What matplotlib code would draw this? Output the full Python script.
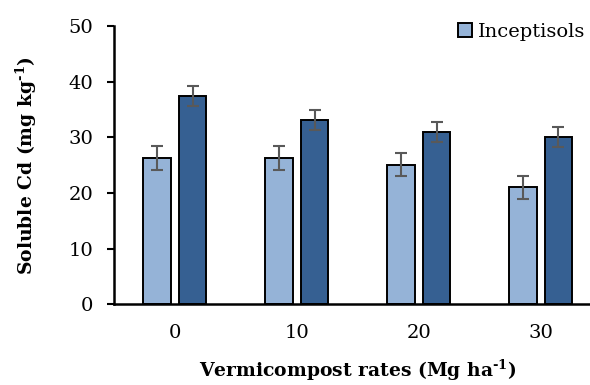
import matplotlib.pyplot as plt
import numpy as np

rates = ["0", "10", "20", "30"]
inceptisols = [26.3, 26.3, 25.1, 21.0]
inceptisols_err = [2.1, 2.1, 2.1, 2.0]
other_soil = [37.4, 33.1, 31.0, 30.1]
other_soil_err = [1.8, 1.8, 1.8, 1.75]

plt.rcParams['font.family'] = ['DejaVu Serif']
plt.rcParams['mathtext.fontset'] = 'custom'
plt.rcParams['mathtext.rm'] = 'DejaVu Serif:bold'
plt.rcParams['mathtext.bf'] = 'DejaVu Serif:bold'
plt.rcParams['mathtext.default'] = 'bf'

fig = plt.figure(figsize=(5.9, 3.85), dpi=100)
ax = fig.add_axes([0.193, 0.21, 0.827, 0.722])

x = np.arange(len(rates))
w = 0.225
off = 0.145
err_kw = dict(ecolor='#595959', elinewidth=1.5, capsize=4, capthick=1.5)
ax.bar(x - off, inceptisols, w, yerr=inceptisols_err, color='#95B3D7',
       edgecolor='black', linewidth=1.4, error_kw=err_kw, label='Inceptisols')
ax.bar(x + off, other_soil, w, yerr=other_soil_err, color='#366092',
       edgecolor='black', linewidth=1.4, error_kw=err_kw)

ax.set_xlim(-0.5, 3.5)
ax.set_ylim(0, 50)
ax.set_yticks([0, 10, 20, 30, 40, 50])
ax.set_xticks(x)
ax.set_xticklabels(rates)
ax.tick_params(axis='x', length=0, pad=14, labelsize=14)
ax.tick_params(axis='y', length=5, width=1.5, direction='out', pad=10, labelsize=14)
for s in ['top', 'right']:
    ax.spines[s].set_visible(False)
for s in ['left', 'bottom']:
    ax.spines[s].set_linewidth(1.8)

ax.set_ylabel(r'Soluble Cd (mg kg$^{\text{-}1}$)', fontweight='bold', fontsize=13.5, labelpad=21)
ax.set_xlabel(r'Vermicompost rates (Mg ha$^{\text{-}1}$)', fontweight='bold', fontsize=13.5, labelpad=12)

ax.legend(loc='upper left', bbox_to_anchor=(0.69, 1.04), frameon=False, fontsize=14,
          handlelength=0.7, handleheight=0.7, handletextpad=0.3, borderaxespad=0)

fig.savefig('out.png', dpi=100)
